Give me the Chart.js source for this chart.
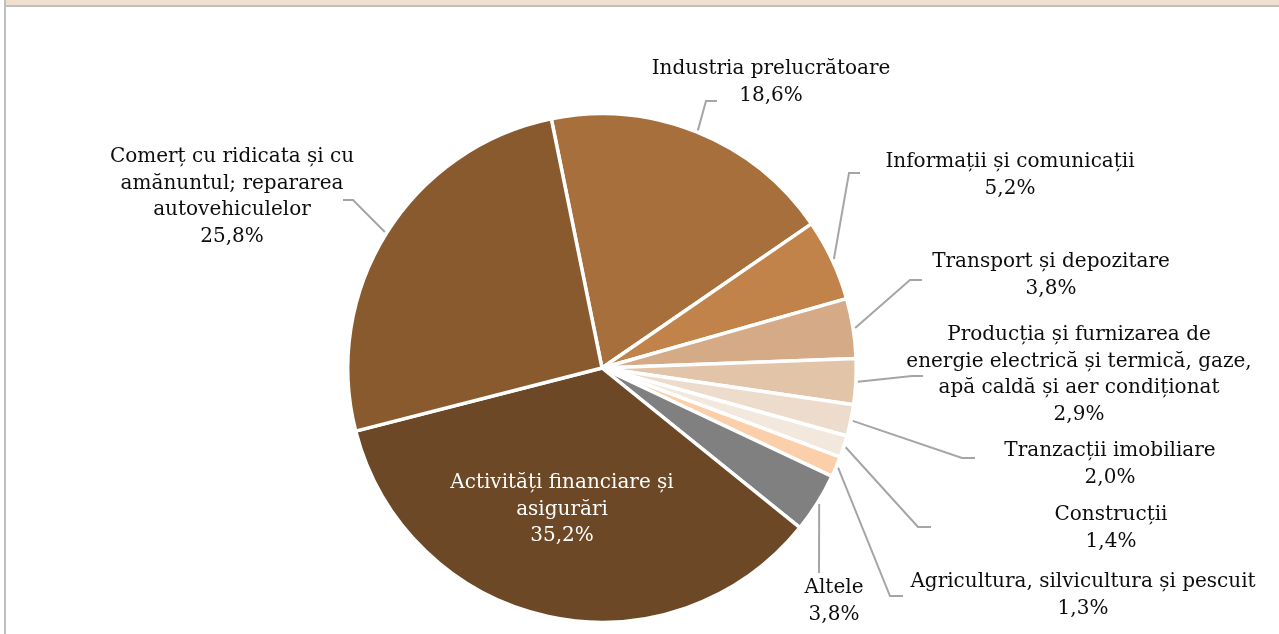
<!DOCTYPE html>
<html>
<head>
<meta charset="utf-8">
<script src="https://cdn.jsdelivr.net/npm/chart.js@4"></script>
<style>
  html, body { margin: 0; padding: 0; background: #fff; overflow: hidden; }
  #frame { position: absolute; left: 4px; top: 0; right: 0; bottom: 0; border-left: 2px solid #bfbfbf; }
  #band { height: 5px; background: #efdfcf; border-bottom: 2px solid #bfbfbf; }
  canvas { position: absolute; left: 0; top: 0; }
</style>
</head>
<body>
<div id="frame"><div id="band"></div></div>
<canvas id="pieChart" width="1279" height="634"></canvas>
<script>
// Structura pe activități (%)
const categories = [
  ['Industria prelucrătoare'],
  ['Informații și comunicații'],
  ['Transport și depozitare'],
  ['Producția și furnizarea de', 'energie electrică și termică, gaze,', 'apă caldă și aer condiționat'],
  ['Tranzacții imobiliare'],
  ['Construcții'],
  ['Agricultura, silvicultura și pescuit'],
  ['Altele'],
  ['Activități financiare și', 'asigurări'],
  ['Comerț cu ridicata și cu', 'amănuntul; repararea', 'autovehiculelor']
];
const shares = [18.6, 5.2, 3.8, 2.9, 2.0, 1.4, 1.3, 3.8, 35.2, 25.8];
const sliceColors = ['#a66f3c', '#c1834a', '#d5aa86', '#e2c4a8', '#eddccb', '#f3e8de', '#fbcfaa', '#808080', '#6c4826', '#8a5a2f'];

// label placement: text centre x, first baseline, leader elbow and end
const labelLayout = [
  { x: 771, y: 74, elbow: [706, 101], end: [717, 101] },
  { x: 1010, y: 167, elbow: [849, 173], end: [860, 173] },
  { x: 1051, y: 267, elbow: [910, 280], end: [922, 280] },
  { x: 1079, y: 340, elbow: [912, 376], end: [923, 376] },
  { x: 1110, y: 456, elbow: [962, 458], end: [975, 458] },
  { x: 1111, y: 520, elbow: [918, 527], end: [931, 527] },
  { x: 1083, y: 587, elbow: [890, 596], end: [903, 596] },
  { x: 834, y: 593, elbow: [819, 573], end: [819, 573] },
  { x: 562, y: 488, inside: true },
  { x: 232, y: 162, elbow: [353, 200], end: [343, 200] }
];

const pct = v => v.toFixed(1).replace('.', ',') + '%';

const outsideLabels = {
  id: 'outsideLabels',
  afterDatasetsDraw(chart) {
    const ctx = chart.ctx;
    const arcs = chart.getDatasetMeta(0).data;
    ctx.save();
    ctx.font = '20px "DejaVu Serif"';
    ctx.textAlign = 'center';
    ctx.textBaseline = 'alphabetic';
    arcs.forEach((arc, i) => {
      const lay = labelLayout[i];
      const lines = categories[i].concat([pct(shares[i])]);
      if (!lay.inside) {
        const mid = (arc.startAngle + arc.endAngle) / 2;
        const r = arc.outerRadius + 2;
        const sx = arc.x + Math.cos(mid) * r;
        const sy = arc.y + Math.sin(mid) * r;
        ctx.strokeStyle = '#a5a5a5';
        ctx.lineWidth = 2;
        ctx.beginPath();
        ctx.moveTo(sx, sy);
        ctx.lineTo(lay.elbow[0], lay.elbow[1]);
        ctx.lineTo(lay.end[0], lay.end[1]);
        ctx.stroke();
      }
      ctx.fillStyle = lay.inside ? '#ffffff' : '#0d0d0d';
      lines.forEach((t, k) => ctx.fillText(t, lay.x, lay.y + k * 26.7));
    });
    ctx.restore();
  }
};

new Chart(document.getElementById('pieChart').getContext('2d'), {
  type: 'pie',
  data: {
    labels: categories,
    datasets: [{
      data: shares,
      backgroundColor: sliceColors,
      borderColor: '#ffffff',
      borderWidth: 3.5
    }]
  },
  options: {
    responsive: false,
    animation: false,
    rotation: -11.5,
    layout: { padding: { top: 112, bottom: 10, left: 346, right: 421 } },
    plugins: { legend: { display: false }, tooltip: { enabled: false } }
  },
  plugins: [outsideLabels]
});
</script>
</body>
</html>
